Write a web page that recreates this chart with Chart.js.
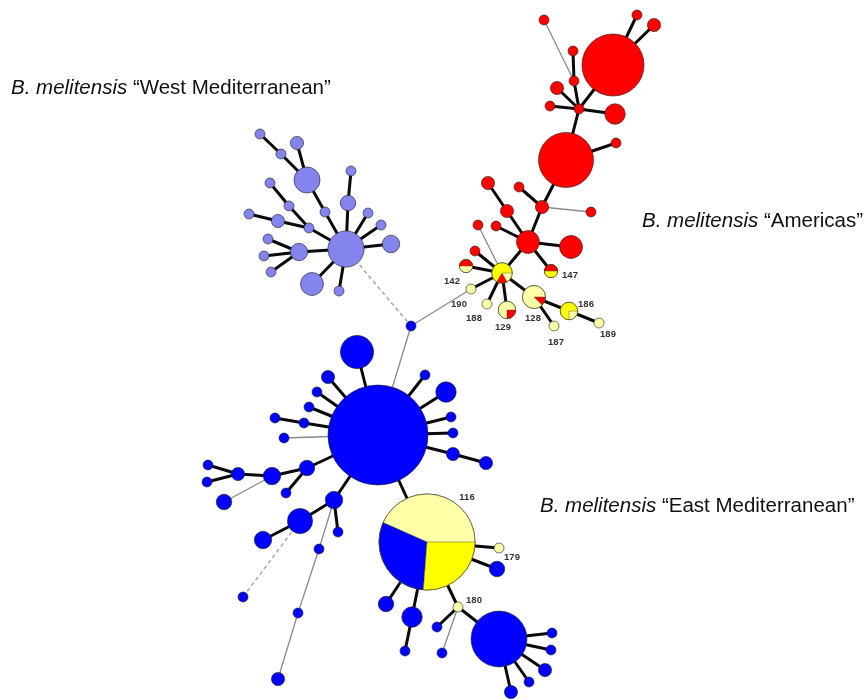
<!DOCTYPE html>
<html>
<head>
<meta charset="utf-8">
<script src="https://cdn.jsdelivr.net/npm/chart.js@4/dist/chart.umd.min.js"></script>
<style>
  html, body { margin: 0; padding: 0; background: #ffffff; }
  #wrap { width: 865px; height: 699px; position: relative; }
</style>
</head>
<body>
<div id="wrap"><canvas id="mst"></canvas></div>
<script>
// Minimum spanning tree of B. melitensis MLVA genotypes.
// Each node: layout position (x, y), number of isolates (n), origin.

// "Americas" clade
const amId     = ['a1','a2','a3','a4','a5','a6','a7','a8','a9','a10','a11','a12','a13','a14','a15','a16','a17','a18','a19','a20','a21','a22','a23','142','147','190','188','129','128','186','187','189'];
const amX      = [544,637,654,613,573,574,557,550,579,615,566,616,488,519,542,591,507,528,571,478,496,475,502,466,551,471,487,507,534,569,554,599];
const amY      = [ 20, 15, 25, 65, 51, 81, 88,106,109,114,160,143,183,187,207,212,211,242,247,225,226,251,273,266,271,289,304,310,297,311,326,323];
const amN      = [  1,  1,  2, 96,  1,  1,  2,  1,  1,  6, 71,  1,  2,  1,  2,  1,  2,  8,  8,  1,  1,  1,  6,  2,  2,  1,  1,  4,  8,  4,  1,  1];
const amOrigin = ['red','red','red','red','red','red','red','red','red','red','red','red','red','red','red','red','red','red','red','red','red','red','yellow','red','red','pale','pale','pale','pale','yellow','pale','pale'];

// "West Mediterranean" clade
const wmId = ['w1','w2','w3','w4','w5','w6','w7','w8','w9','w10','w11','w12','w13','w14','w15','w16','w17','w18','w19','w20','w21','w22'];
const wmX  = [260,281,297,307,270,351,348,289,325,249,278,368,309,381,346,391,268,299,264,271,312,339];
const wmY  = [134,154,143,180,183,171,203,206,212,214,221,213,228,225,249,244,239,252,256,272,284,291];
const wmN  = [  1,  1,  2, 11,  1,  1,  3,  1,  1,  1,  2,  1,  1,  1, 25,  4,  1,  4,  1,  1,  8,  1];

// "East Mediterranean" clade
const emId     = ['e0','e1','e2','e3','e4','e5','e6','e7','e8','e9','e10','e11','e12','e13','e14','e15','e16','e17','e18','e19','e20','e21','e22','e23','e24','e25','e26','e27','e28','e29','116','179','e30','e31','e32','e33','180','e34','e35','e36','e37','e38','e39','e40','e41'];
const emX      = [411,378,357,328,317,309,275,304,284,425,446,451,453,453,486,307,272,238,208,207,224,286,334,300,263,338,319,243,298,278,427,499,497,386,412,405,458,437,442,499,552,551,545,529,511];
const emY      = [326,435,352,377,392,407,418,423,438,375,392,417,433,454,463,468,476,474,465,482,502,493,500,521,540,532,549,597,613,679,542,548,569,604,617,651,607,627,653,639,633,650,670,682,692];
const emN      = [  1,316, 20,  2,  1,  1,  1,  1,  1,  1,  6,  1,  1,  2,  2,  3,  4,  2,  1,  1,  3,  1,  4, 10,  4,  1,  1,  1,  1,  2,286,  1,  3,  3,  6,  1,  1,  1,  1, 74,  1,  1,  2,  1,  2];
const emOrigin = emId.map(id => (id === '179' || id === '180' || id === '116') ? 'pale' : 'blue');

// Genotypes shared between origins: isolates per origin
const mixedId    = ['a23','142','147','129','128','186','116'];
const mixedParts = [
  [['yellow',4],['red',1],['pale',1]],
  [['red',1],['pale',1]],
  [['red',1],['yellow',1]],
  [['pale',3],['red',1]],
  [['pale',7],['red',1]],
  [['yellow',3],['pale',1]],
  [['pale',124],['blue',87],['yellow',75]]
];

// Links of the tree (thick = close, thin = distant, dashed = very distant)
const thickLinks = [
  ['a2','a4'],['a3','a4'],['a5','a6'],['a6','a9'],['a7','a9'],['a8','a9'],['a4','a9'],['a10','a9'],['a9','a11'],
  ['a11','a12'],['a11','a15'],['a14','a15'],['a13','a17'],['a17','a18'],['a15','a18'],['a21','a18'],['a19','a18'],
  ['147','a18'],['a23','a18'],['a22','a23'],['142','a23'],['190','a23'],['188','a23'],['129','a23'],['128','a23'],
  ['186','128'],['187','128'],['189','186'],
  ['w1','w2'],['w2','w4'],['w3','w4'],['w4','w9'],['w9','w15'],['w6','w7'],['w7','w15'],['w5','w8'],['w8','w13'],
  ['w13','w15'],['w10','w11'],['w11','w13'],['w12','w15'],['w14','w15'],['w16','w15'],['w17','w18'],['w19','w18'],
  ['w20','w18'],['w18','w15'],['w21','w15'],['w22','w15'],
  ['e2','e1'],['e3','e1'],['e4','e1'],['e5','e1'],['e6','e7'],['e7','e1'],['e9','e1'],['e10','e1'],['e11','e1'],
  ['e12','e1'],['e13','e1'],['e14','e13'],['e15','e1'],['e16','e15'],['e17','e16'],['e18','e17'],['e19','e17'],
  ['e21','e15'],['e22','e1'],['e23','e22'],['e24','e23'],['e25','e22'],['116','e1'],['179','116'],['e30','116'],
  ['e31','116'],['e32','116'],['e33','e32'],['180','116'],['e34','180'],['e36','180'],['e37','e36'],['e38','e36'],
  ['e39','e36'],['e40','e36'],['e41','e36']
];
const thinLinks = [
  ['a1','a6'],['a15','a16'],['a20','a23'],['190','e0'],['e0','e1'],
  ['e8','e1'],['e20','e16'],['e26','e22'],['e28','e26'],['e29','e28'],['e35','180']
];
const dashedLinks = [['w15','e0'],['e23','e27']];

// Numbered genotype labels
const labelIds = ['142','190','188','129','128','147','186','187','189','116','179','180'];

// Clade titles
const cladeNames = ['\u201cWest Mediterranean\u201d', '\u201cAmericas\u201d', '\u201cEast Mediterranean\u201d'];

// ---- layout / style ----
const labelOffset = {
  '142':[-14,15], '190':[-12,15], '188':[-13,14], '129':[-4,17], '128':[-1,21], '147':[19,4],
  '186':[17,-7], '187':[2,16], '189':[9,11], '116':[40,-45], '179':[13,9], '180':[16,-7]
};
const cladeAnchor = [[11,94],[642,227],[540,512]];
const palette = { red:'#ff0000', yellow:'#ffff00', pale:'#ffffa8', blue:'#0000ff', purple:'#8484ef' };
const radiusOf = n => 5 * Math.pow(n, 0.4);

// Build node table
const nodes = [];
amId.forEach((id,i) => nodes.push({id, x:amX[i], y:amY[i], n:amN[i], origin:amOrigin[i]}));
wmId.forEach((id,i) => nodes.push({id, x:wmX[i], y:wmY[i], n:wmN[i], origin:'purple'}));
emId.forEach((id,i) => nodes.push({id, x:emX[i], y:emY[i], n:emN[i], origin:emOrigin[i]}));
const nodeIndex = {};
nodes.forEach((nd,i) => nodeIndex[nd.id] = i);

function linkData(list) {
  const out = [];
  list.forEach(([a,b]) => {
    const p = nodes[nodeIndex[a]], q = nodes[nodeIndex[b]];
    out.push({x:p.x, y:p.y}, {x:q.x, y:q.y}, {x:null, y:null});
  });
  return out;
}

// Split-colour genotypes drawn as pies on top of their bubbles
const piePlugin = {
  id: 'pieNodes',
  afterDatasetsDraw(chart) {
    const meta = chart.getDatasetMeta(0);
    const ctx = chart.ctx;
    mixedId.forEach((id, k) => {
      const el = meta.data[nodeIndex[id]];
      const r = el.options.radius;
      const parts = mixedParts[k];
      const total = parts.reduce((s,p) => s + p[1], 0);
      let a = 0;
      ctx.save();
      parts.forEach(([col, cnt]) => {
        const sweep = cnt / total * Math.PI * 2;
        ctx.beginPath();
        ctx.moveTo(el.x, el.y);
        ctx.arc(el.x, el.y, r, -a, -(a + sweep), true);
        ctx.closePath();
        ctx.fillStyle = palette[col];
        ctx.fill();
        a += sweep;
      });
      a = 0;
      ctx.strokeStyle = 'rgba(60,60,20,0.55)';
      ctx.lineWidth = 0.8;
      parts.forEach(([col, cnt]) => {
        ctx.beginPath();
        ctx.moveTo(el.x, el.y);
        ctx.lineTo(el.x + r * Math.cos(-a), el.y + r * Math.sin(-a));
        ctx.stroke();
        a += cnt / total * Math.PI * 2;
      });
      ctx.beginPath();
      ctx.arc(el.x, el.y, r, 0, Math.PI * 2);
      ctx.strokeStyle = 'rgba(70,70,40,0.7)';
      ctx.lineWidth = 1;
      ctx.stroke();
      ctx.restore();
    });
  }
};

// Genotype numbers and clade titles
const textPlugin = {
  id: 'mstText',
  afterDraw(chart) {
    const ctx = chart.ctx;
    const xs = chart.scales.x, ys = chart.scales.y;
    const meta = chart.getDatasetMeta(0);
    ctx.save();
    ctx.fillStyle = '#333333';
    ctx.font = 'bold 9.5px "Liberation Sans", Arial, sans-serif';
    ctx.textAlign = 'center';
    ctx.textBaseline = 'middle';
    labelIds.forEach(id => {
      const el = meta.data[nodeIndex[id]];
      const off = labelOffset[id];
      ctx.fillText(id, el.x + off[0], el.y + off[1]);
    });
    ctx.fillStyle = '#111111';
    ctx.textAlign = 'left';
    ctx.textBaseline = 'alphabetic';
    cladeNames.forEach((name, i) => {
      const px = xs.getPixelForValue(cladeAnchor[i][0]);
      const py = ys.getPixelForValue(cladeAnchor[i][1]);
      ctx.font = 'italic 20.5px "Liberation Sans", Arial, sans-serif';
      const sp = 'B. melitensis';
      ctx.fillText(sp, px, py);
      const w = ctx.measureText(sp + ' ').width;
      ctx.font = '20.5px "Liberation Sans", Arial, sans-serif';
      ctx.fillText(name, px + w, py);
    });
    ctx.restore();
  }
};

new Chart(document.getElementById('mst'), {
  type: 'bubble',
  data: {
    datasets: [
      {
        label: 'genotypes',
        data: nodes.map(nd => ({x: nd.x, y: nd.y, r: radiusOf(nd.n)})),
        backgroundColor: nodes.map(nd => palette[nd.origin]),
        borderColor: 'rgba(30,30,30,0.6)',
        borderWidth: 1,
        hoverBorderWidth: 1,
        hoverRadius: 0,
        clip: false,
        order: 0
      },
      {
        type: 'scatter', label: 'close', showLine: true, spanGaps: false,
        data: linkData(thickLinks), borderColor: '#0a0a0a', borderWidth: 3,
        pointRadius: 0, pointHoverRadius: 0, clip: false, order: 1
      },
      {
        type: 'scatter', label: 'distant', showLine: true, spanGaps: false,
        data: linkData(thinLinks), borderColor: '#8a8a8a', borderWidth: 1.3,
        pointRadius: 0, pointHoverRadius: 0, clip: false, order: 2
      },
      {
        type: 'scatter', label: 'very distant', showLine: true, spanGaps: false,
        data: linkData(dashedLinks), borderColor: '#a8a8a8', borderWidth: 1.5, borderDash: [4, 3],
        pointRadius: 0, pointHoverRadius: 0, clip: false, order: 3
      }
    ]
  },
  options: {
    responsive: true,
    maintainAspectRatio: false,
    animation: false,
    events: [],
    layout: { padding: 0, autoPadding: false },
    plugins: { legend: { display: false }, tooltip: { enabled: false }, title: { display: false } },
    scales: {
      x: { type: 'linear', min: 0, max: 865, display: false },
      y: { type: 'linear', min: 0, max: 699, reverse: true, display: false }
    }
  },
  plugins: [piePlugin, textPlugin]
});
</script>
</body>
</html>
